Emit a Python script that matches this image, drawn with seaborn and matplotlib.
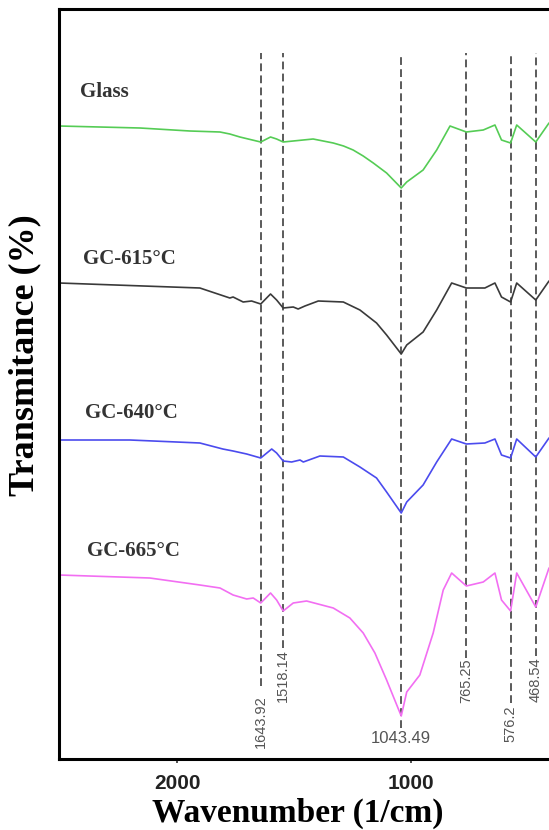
import matplotlib
matplotlib.use("Agg")
import matplotlib.pyplot as plt
import seaborn as sns
import pandas as pd

# ---------------- data ----------------
glass_w = [2506, 2160, 1947, 1818, 1776, 1733, 1662, 1643.92, 1602, 1576, 1548, 1505, 1420, 1334,
           1290, 1249, 1206, 1163, 1106, 1043.49, 1020, 950, 892, 835, 765.25, 693, 643, 615, 576.2, 550, 468.54, 412]
glass_t = [633, 631, 628, 627, 625, 622, 618, 617, 622, 620, 617, 618, 620, 616,
           613, 609, 603, 596, 586, 571, 577, 589, 609, 633, 627, 629, 634, 619, 616, 634, 617, 636]

gc615_w = [2506, 1904, 1776, 1762, 1719, 1683, 1643.92, 1602, 1576, 1548, 1505, 1484, 1455, 1398,
           1291, 1220, 1149, 1106, 1043.49, 1020, 950, 892, 828, 765.25, 686, 643, 615, 576.2, 550, 468.54, 412]
gc615_t = [476, 471, 461, 462, 457, 458, 455, 465, 459, 451, 452, 450, 453, 458,
           457, 449, 436, 424, 405, 414, 427, 449, 476, 471, 471, 476, 462, 457, 476, 459, 478]

gc640_w = [2506, 2203, 1904, 1806, 1762, 1704, 1643.92, 1597, 1576, 1548, 1512, 1476, 1462, 1391,
           1291, 1220, 1149, 1106, 1043.49, 1020, 950, 892, 828, 765.25, 686, 643, 615, 576.2, 550, 468.54, 412]
gc640_t = [319, 319, 316, 310, 308, 305, 301, 310, 306, 298, 297, 299, 297, 303,
           302, 292, 281, 267, 246, 257, 274, 297, 320, 315, 316, 320, 304, 301, 320, 302, 321]

gc665_w = [2506, 2118, 1904, 1818, 1762, 1704, 1676, 1643.92, 1602, 1576, 1548, 1505, 1448, 1334,
           1263, 1206, 1156, 1106, 1043.49, 1020, 964, 907, 864, 828, 765.25, 693, 643, 615, 576.2, 550, 468.54, 412]
gc665_t = [184, 181, 174, 171, 164, 160, 161, 156, 166, 159, 148, 156, 158, 151,
           141, 126, 106, 79, 43, 67, 84, 126, 169, 186, 173, 177, 186, 159, 148, 186, 152, 191]

samples = ["Glass", "GC-615°C", "GC-640°C", "GC-665°C"]
colors = ["#55cc55", "#3a3a3a", "#4b4bee", "#f26ef2"]

peak_pos = [1643.92, 1548, 1043.49, 765.25, 576.2, 468.54]
peak_text = ["1643.92", "1518.14", "1043.49", "765.25", "576.2", "468.54"]

x_ticks = [2000, 1000]
x_tick_labels = ["2000", "1000"]

# ---------------- figure ----------------
sns.set_theme(style="white")
plt.rcParams["font.family"] = ["Liberation Sans", "DejaVu Sans"]

fig = plt.figure(figsize=(5.49, 8.30), dpi=100)
ax = fig.add_axes([59 / 549, (830 - 759) / 830, (549 - 59) / 549, (759 - 9) / 830])

frames = []
for name, w, t in zip(samples, [glass_w, gc615_w, gc640_w, gc665_w],
                      [glass_t, gc615_t, gc640_t, gc665_t]):
    frames.append(pd.DataFrame({"wavenumber": w, "T": t, "sample": name}))
df = pd.concat(frames, ignore_index=True)

sns.lineplot(data=df, x="wavenumber", y="T", hue="sample", hue_order=samples,
             palette=dict(zip(samples, colors)), estimator=None, sort=True,
             linewidth=1.2, legend=False, ax=ax)

ax.set_xlim(2506, 412)
ax.set_ylim(0, 750)

# dashed peak lines and their labels
line_top = 706
line_bottoms = [73, 111, 31, 101, 56, 103]
label_y = [11, 57, 21, 56, 17, 57]
for p, txt, lb, ly in zip(peak_pos, peak_text, line_bottoms, label_y):
    ax.vlines(p, lb, line_top, colors="#5a5a5a", linestyles=(0, (4.0, 2.2)), linewidth=1.4, zorder=1)
    if txt == "1043.49":
        ax.text(p, ly, txt, ha="center", va="center", fontsize=12, color="#555555")
    else:
        ax.text(p, ly, txt, rotation=90, ha="center", va="bottom", fontsize=10.5, color="#555555")

# sample names
name_x = [2417, 2404, 2395, 2387]
name_y = [667, 500, 346, 208]
for name, nx, ny in zip(samples, name_x, name_y):
    ax.text(nx, ny, name, ha="left", va="center", fontsize=15, fontweight="bold",
            family=["Liberation Serif", "DejaVu Serif"], color="#333333")

# axes styling
ax.set_xticks(x_ticks)
ax.set_xticklabels(x_tick_labels, fontsize=15, fontweight="bold", color="#222222")
ax.set_yticks([])
ax.tick_params(axis="x", direction="out", length=3, width=1.2, color="#333333", pad=8, bottom=True)
for side in ["top", "left", "bottom"]:
    ax.spines[side].set_visible(True)
    ax.spines[side].set_color("black")
    ax.spines[side].set_linewidth(2.2)
ax.spines["right"].set_visible(False)

ax.set_xlabel("Wavenumber (1/cm)", fontsize=24, fontweight="bold",
              family=["Liberation Serif", "DejaVu Serif"], color="black")
ax.xaxis.label.set_va("center")
ax.xaxis.set_label_coords(0.487, -0.072)

ax.set_ylabel("Transmitance (%)", fontsize=26, fontweight="bold",
              family=["Liberation Serif", "DejaVu Serif"], color="black")
ax.yaxis.label.set_va("center")
ax.yaxis.set_label_coords(-0.069, 0.539)

fig.savefig("out.png", dpi=100)
